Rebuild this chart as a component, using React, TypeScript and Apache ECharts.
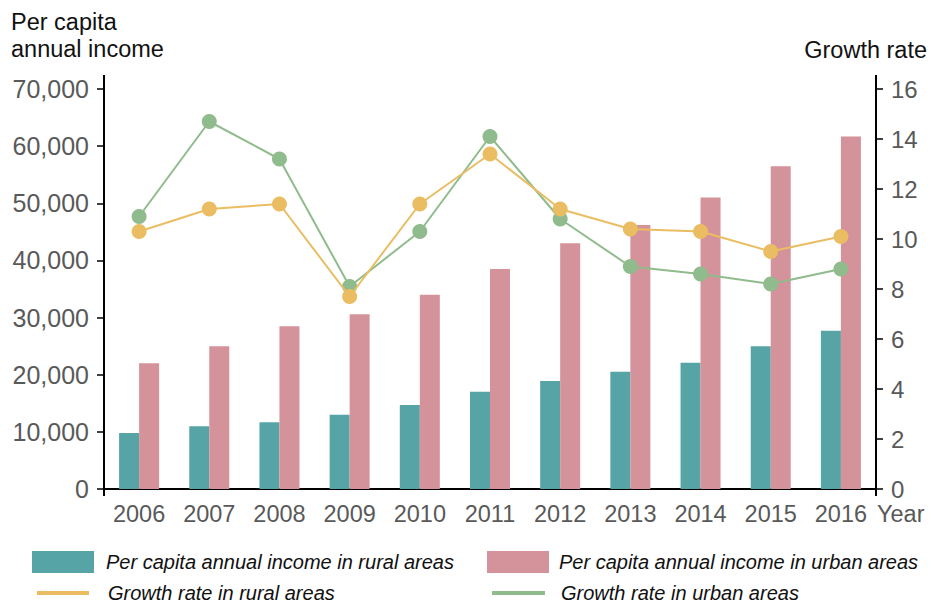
import React, { useEffect, useRef } from "react";
import * as echarts from "echarts";

const years = ["2006", "2007", "2008", "2009", "2010", "2011", "2012", "2013", "2014", "2015", "2016"];
const ruralIncome = [9800, 11000, 11700, 13000, 14700, 17000, 18900, 20500, 22100, 25000, 27700];
const urbanIncome = [22000, 25000, 28500, 30600, 34000, 38500, 43000, 46200, 51000, 56500, 61700];
const ruralGrowth = [10.3, 11.2, 11.4, 7.7, 11.4, 13.4, 11.2, 10.4, 10.3, 9.5, 10.1];
const urbanGrowth = [10.9, 14.7, 13.2, 8.1, 10.3, 14.1, 10.8, 8.9, 8.6, 8.2, 8.8];

const seriesNames = [
  "Per capita annual income in rural areas",
  "Per capita annual income in urban areas",
  "Growth rate in rural areas",
  "Growth rate in urban areas",
];

const W = 931;
const H = 604;
const GRID = { left: 104, right: 55, top: 89, bottom: 115 };
const FONT = "'Liberation Sans', Arial, Helvetica, sans-serif";
const C_RURAL = "#57a4a6";
const C_URBAN = "#d4929a";
const C_RG = "#ebbd62";
const C_UG = "#90bb8c";
const LABEL = "#595959";

export default function App() {
  const ref = useRef<HTMLDivElement>(null);
  useEffect(() => {
    if (!ref.current) return;
    const chart = echarts.init(ref.current, null, { renderer: "svg" });
    const xL = GRID.left;
    const xR = W - GRID.right;
    const yT = GRID.top;
    const yB = H - GRID.bottom;
    const legendText = (pad: number) => ({
      fontFamily: FONT,
      fontStyle: "italic" as const,
      fontSize: 20,
      color: "#111",
      lineHeight: 22,
      padding: [0, 0, 0, pad],
    });
    chart.setOption({
      animation: false,
      backgroundColor: "#fff",
      textStyle: { fontFamily: FONT },
      title: [
        {
          text: "Per capita\nannual income",
          left: 11,
          top: 8,
          padding: 0,
          textStyle: { fontFamily: FONT, fontSize: 23.5, fontWeight: "normal", color: "#111", lineHeight: 27 },
        },
        {
          text: "Growth rate",
          right: 4,
          top: 36,
          padding: 0,
          textStyle: { fontFamily: FONT, fontSize: 23.5, fontWeight: "normal", color: "#111", lineHeight: 27 },
        },
      ],
      legend: [
        {
          left: 32, top: 551, padding: 0, itemWidth: 62, itemHeight: 22, icon: "rect",
          data: [{ name: seriesNames[0] }], textStyle: legendText(7), itemStyle: { borderWidth: 0 },
        },
        {
          left: 487, top: 551, padding: 0, itemWidth: 62, itemHeight: 22, icon: "rect",
          data: [{ name: seriesNames[1] }], textStyle: legendText(5), itemStyle: { borderWidth: 0 },
        },
        {
          left: 37, top: 582, padding: 0, itemWidth: 52, itemHeight: 4, icon: "rect",
          data: [{ name: seriesNames[2] }], textStyle: legendText(14), itemStyle: { borderWidth: 0 },
        },
        {
          left: 492, top: 582, padding: 0, itemWidth: 53, itemHeight: 4, icon: "rect",
          data: [{ name: seriesNames[3] }], textStyle: legendText(11), itemStyle: { borderWidth: 0 },
        },
      ],
      grid: { ...GRID, containLabel: false },
      xAxis: {
        type: "category",
        data: years,
        boundaryGap: true,
        name: "Year",
        nameLocation: "end",
        nameGap: 1,
        nameTextStyle: { fontFamily: FONT, fontSize: 23.5, color: LABEL, verticalAlign: "top", padding: [13, 0, 0, 0] },
        axisLine: { lineStyle: { color: "#000", width: 2 } },
        axisTick: { show: false },
        axisLabel: { fontFamily: FONT, fontSize: 23.5, color: LABEL, margin: 13, interval: 0 },
        splitLine: { show: false },
      },
      yAxis: [
        {
          type: "value",
          min: 0,
          max: 70000,
          interval: 10000,
          axisLine: { show: true, lineStyle: { color: "#000", width: 2 } },
          axisTick: { show: true, length: 7, lineStyle: { color: "#000", width: 1.5 } },
          axisLabel: {
            fontFamily: FONT,
            fontSize: 25,
            color: LABEL,
            margin: 15,
            formatter: (v: number) => v.toLocaleString("en-US"),
          },
          splitLine: { show: false },
        },
        {
          type: "value",
          min: 0,
          max: 16,
          interval: 2,
          position: "right",
          axisLine: { show: true, lineStyle: { color: "#000", width: 2 } },
          axisTick: { show: true, length: 7, lineStyle: { color: "#000", width: 1.5 } },
          axisLabel: { fontFamily: FONT, fontSize: 24, color: LABEL, margin: 15 },
          splitLine: { show: false },
        },
      ],
      graphic: [
        { type: "line", shape: { x1: xL, y1: yT - 14, x2: xL, y2: yT }, style: { stroke: "#000", lineWidth: 2 }, silent: true },
        { type: "line", shape: { x1: xL, y1: yB, x2: xL, y2: yB + 7 }, style: { stroke: "#000", lineWidth: 2 }, silent: true },
        { type: "line", shape: { x1: xR, y1: yT - 14, x2: xR, y2: yT }, style: { stroke: "#000", lineWidth: 2 }, silent: true },
        { type: "line", shape: { x1: xR, y1: yB, x2: xR, y2: yB + 7 }, style: { stroke: "#000", lineWidth: 2 }, silent: true },
      ],
      series: [
        {
          name: seriesNames[0],
          type: "bar",
          data: ruralIncome,
          barWidth: 20,
          barGap: "0%",
          itemStyle: { color: C_RURAL },
          z: 2,
        },
        {
          name: seriesNames[1],
          type: "bar",
          data: urbanIncome,
          barWidth: 20,
          barGap: "0%",
          itemStyle: { color: C_URBAN },
          z: 2,
        },
        {
          name: seriesNames[3],
          type: "line",
          yAxisIndex: 1,
          data: urbanGrowth,
          symbol: "circle",
          symbolSize: 15,
          showSymbol: true,
          lineStyle: { color: C_UG, width: 2 },
          itemStyle: { color: C_UG, borderWidth: 0 },
          z: 3,
        },
        {
          name: seriesNames[2],
          type: "line",
          yAxisIndex: 1,
          data: ruralGrowth,
          symbol: "circle",
          symbolSize: 15,
          showSymbol: true,
          lineStyle: { color: C_RG, width: 2 },
          itemStyle: { color: C_RG, borderWidth: 0 },
          z: 4,
        },
      ],
    });
    return () => chart.dispose();
  }, []);
  return (
    <div
      ref={ref}
      style={{ position: "fixed", left: 0, top: 0, width: W, height: H, background: "#fff" }}
    />
  );
}
